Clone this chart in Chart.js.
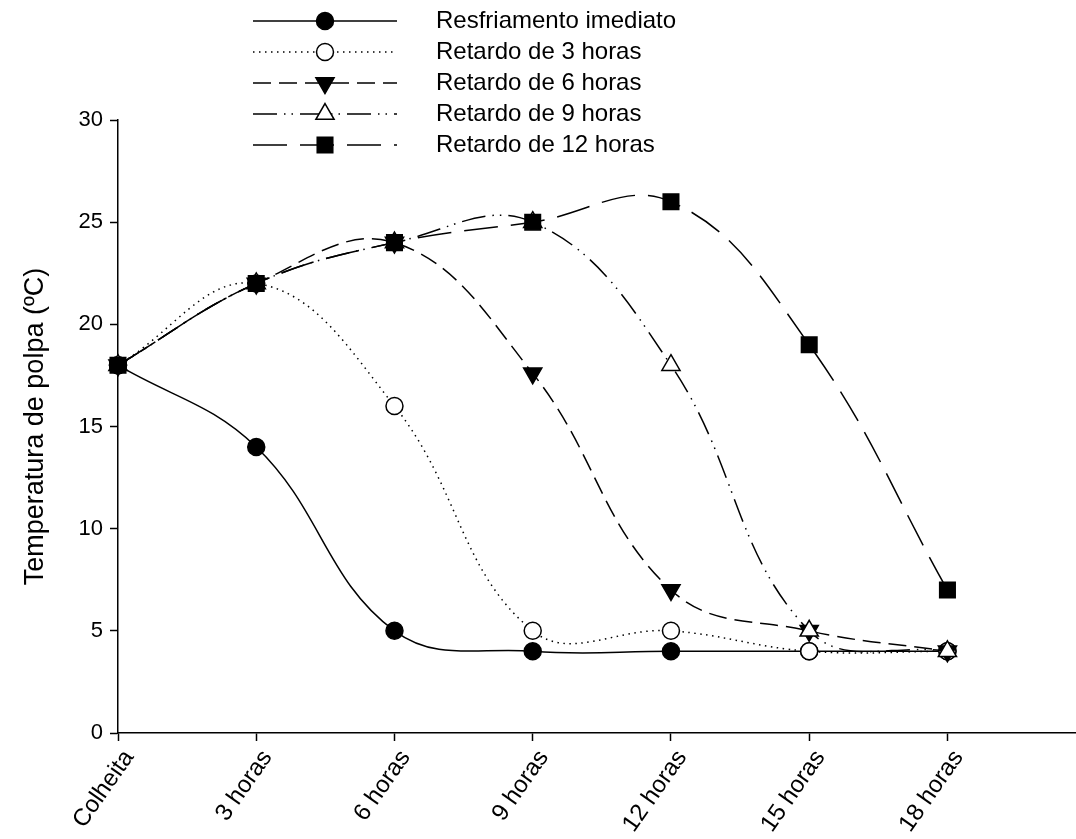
<!DOCTYPE html>
<html>
<head>
<meta charset="utf-8">
<script src="https://cdn.jsdelivr.net/npm/chart.js@4/dist/chart.umd.min.js"></script>
<style>
  html, body { margin: 0; padding: 0; background: #fff; }
</style>
</head>
<body>
<canvas id="chart" width="1076" height="839"></canvas>
<script>
// Data
const categories = ["Colheita", "3 horas", "6 horas", "9 horas", "12 horas", "15 horas", "18 horas"];
const resfriamento = [18, 14, 5, 4, 4, 4, 4];
const retardo3 = [18, 22, 16, 5, 5, 4, 4];
const retardo6 = [18, 22, 24, 17.6, 7, 5, 4];
const retardo9 = [18, 22, 24, 25, 18, 5, 4];
const retardo12 = [18, 22, 24, 25, 26, 19, 7];
const yTicks = [0, 5, 10, 15, 20, 25, 30];

const FONT = "'Liberation Sans', Arial, sans-serif";
const toPoints = arr => arr.map((v, i) => ({ x: i, y: v }));

const series = [
    { label: "Resfriamento imediato", data: resfriamento, dash: [], style: "circle", fill: "#000", radius: 8.5, rot: 0 },
    { label: "Retardo de 3 horas", data: retardo3, dash: [1.5, 4.5], style: "circle", fill: "#fff", radius: 8.5, rot: 0 },
    { label: "Retardo de 6 horas", data: retardo6, dash: [18, 8], style: "triangle", fill: "#000", radius: 10.5, rot: 180 },
    { label: "Retardo de 9 horas", data: retardo9, dash: [24, 7, 1.5, 6, 1.5, 7], style: "triangle", fill: "#fff", radius: 10.5, rot: 0 },
    { label: "Retardo de 12 horas", data: retardo12, dash: [34, 13], style: "rect", fill: "#000", radius: 11, rot: 0 }
];

// legend drawn by hand: line + marker + text, like the original
const figLegend = {
    id: "figLegend",
    afterDraw(chart) {
        const ctx = chart.ctx;
        const x0 = 253, x1 = 397, tx = 436;
        const rows = [21, 52, 83, 114, 145];
        ctx.save();
        series.forEach((s, i) => {
            const y = rows[i];
            ctx.strokeStyle = "#000";
            ctx.lineWidth = 1.5;
            ctx.setLineDash(s.dash);
            ctx.beginPath();
            ctx.moveTo(x0, y);
            ctx.lineTo(x1, y);
            ctx.stroke();
            ctx.setLineDash([]);
            ctx.fillStyle = s.fill;
            Chart.helpers.drawPoint(ctx, {
                pointStyle: s.style,
                rotation: s.rot,
                radius: s.radius,
                borderWidth: 1.5
            }, (x0 + x1) / 2, y);
            ctx.fillStyle = "#000";
            ctx.font = "24px " + FONT;
            ctx.textBaseline = "middle";
            ctx.textAlign = "left";
            ctx.fillText(s.label, tx, y);
        });
        ctx.restore();
    }
};

// rotated category labels under the x axis
const xLabels = {
    id: "xLabels",
    afterDraw(chart) {
        const ctx = chart.ctx;
        const xs = chart.scales.x;
        ctx.save();
        ctx.fillStyle = "#000";
        ctx.font = "24px " + FONT;
        ctx.textAlign = "right";
        ctx.textBaseline = "middle";
        categories.forEach((c, i) => {
            ctx.save();
            ctx.translate(xs.getPixelForValue(i) + 11, xs.top + 20);
            ctx.rotate(-55 * Math.PI / 180);
            ctx.fillText(c, 0, 0);
            ctx.restore();
        });
        ctx.restore();
    }
};

const chart = new Chart("chart", {
    type: "line",
    data: {
        datasets: series.map((s, i) => ({
            label: s.label,
            data: toPoints(s.data),
            borderColor: "#000",
            borderWidth: 1.5,
            borderDash: s.dash,
            tension: 0.4,
            pointStyle: s.style,
            pointRotation: s.rot,
            pointRadius: s.radius,
            pointBackgroundColor: s.fill,
            pointBorderColor: "#000",
            pointBorderWidth: 1.5,
            order: series.length - 1 - i
        }))
    },
    options: {
        responsive: false,
        animation: false,
        clip: false,
        layout: { autoPadding: false, padding: { top: 120, right: 0, bottom: 0, left: 0 } },
        plugins: {
            legend: { display: false },
            tooltip: { enabled: false }
        },
        scales: {
            x: {
                type: "linear",
                min: 0,
                max: 6.93,
                afterFit: scale => {
                    scale.height = 106;
                    scale.paddingLeft = 0;
                    scale.paddingRight = 0;
                },
                grid: { drawOnChartArea: false, drawTicks: true, tickLength: 8, tickColor: "#000", tickWidth: 1.5 },
                border: { color: "#000", width: 1.5 },
                ticks: {
                    stepSize: 1,
                    includeBounds: false,
                    autoSkip: false,
                    maxRotation: 0,
                    color: "transparent",
                    font: { size: 1 },
                    callback: () => ""
                }
            },
            y: {
                min: 0,
                max: 30,
                afterFit: scale => {
                    scale.width = 118;
                    scale.paddingTop = 0;
                    scale.paddingBottom = 0;
                },
                afterBuildTicks: scale => { scale.ticks = yTicks.map(v => ({ value: v })); },
                grid: { drawOnChartArea: false, drawTicks: true, tickLength: 8, tickColor: "#000", tickWidth: 1.5 },
                border: { color: "#000", width: 1.5 },
                ticks: {
                    padding: 7,
                    color: "#000",
                    font: { family: FONT, size: 22 }
                },
                title: {
                    display: true,
                    text: "Temperatura de polpa (ºC)",
                    color: "#000",
                    padding: { top: 19, bottom: 0 },
                    font: { family: FONT, size: 27 }
                }
            }
        }
    },
    plugins: [figLegend, xLabels]
});
</script>
</body>
</html>
